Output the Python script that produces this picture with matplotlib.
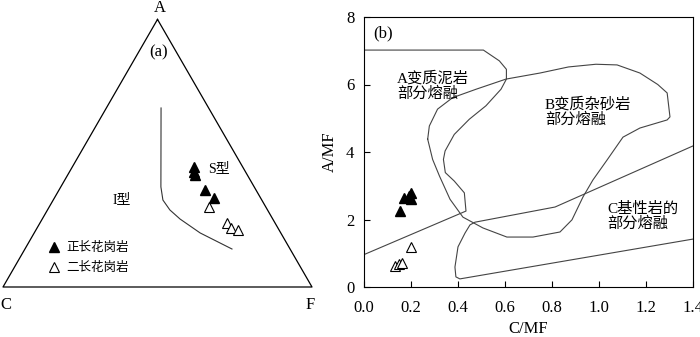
import numpy as np
import matplotlib.pyplot as plt

plt.rcParams['font.family'] = ['Liberation Serif', 'Noto Sans CJK SC']

# (a) ACF ternary: fractions A, C, F
orth_A = [0.448, 0.430, 0.418, 0.362, 0.333]
orth_C = [0.158, 0.167, 0.170, 0.165, 0.151]
orth_F = [0.394, 0.403, 0.412, 0.473, 0.516]
mon_A = [0.299, 0.239, 0.220, 0.213]
mon_C = [0.184, 0.156, 0.152, 0.133]
mon_F = [0.517, 0.605, 0.628, 0.654]
bound_A = [0.669, 0.374, 0.325, 0.288, 0.254, 0.202, 0.142]
bound_C = [0.154, 0.302, 0.320, 0.316, 0.300, 0.261, 0.188]
bound_F = [0.177, 0.324, 0.355, 0.396, 0.446, 0.537, 0.670]

# (b) C/MF vs A/MF
orth_cmf = [0.17, 0.20, 0.20, 0.19, 0.155]
orth_amf = [2.65, 2.80, 2.62, 2.70, 2.25]
mon_cmf = [0.20, 0.13, 0.15, 0.16]
mon_amf = [1.19, 0.62, 0.67, 0.70]

fieldA_x = [0, 0.508, 0.576, 0.606, 0.606, 0.583, 0.519, 0.448, 0.384, 0.345,
            0.338, 0.346, 0.384, 0.427, 0.434, 0]
fieldA_y = [7.02, 7.02, 6.70, 6.45, 6.16, 5.86, 5.37, 4.97, 4.52, 4.03,
            3.78, 3.39, 3.14, 2.79, 2.25, 0.96]
fieldB_x = [0.271, 0.278, 0.313, 0.377, 0.477, 0.604, 0.749, 0.870, 0.987,
            1.077, 1.174, 1.250, 1.290, 1.302, 1.290, 1.174, 1.102, 1.034,
            0.974, 0.932, 0.885, 0.834, 0.719, 0.608, 0.506, 0.421, 0.366,
            0.321, 0.292, 0.271]
fieldB_y = [4.38, 4.77, 5.27, 5.61, 5.86, 6.16, 6.34, 6.52, 6.60, 6.58,
            6.34, 6.00, 5.75, 5.04, 4.95, 4.71, 4.44, 3.76, 3.17, 2.67,
            1.99, 1.63, 1.48, 1.48, 1.75, 2.07, 2.60, 3.29, 3.78, 4.38]
fieldC_x = [1.4, 0.408, 0.391, 0.387, 0.400, 0.430, 0.451, 0.472, 0.813, 1.4]
fieldC_y = [1.42, 0.24, 0.30, 0.59, 1.19, 1.60, 1.84, 1.92, 2.37, 4.18]


def tern(a, c, f):
    a, c, f = np.asarray(a), np.asarray(c), np.asarray(f)
    s = a + c + f
    return (f + a / 2) / s, a / s * np.sqrt(3) / 2


fig = plt.figure(figsize=(7, 3.37), dpi=100)

# ---- panel (a)
ax1 = fig.add_axes([0, 0, 330 / 700, 1])
ax1.set_xlim(-3 / 309, 327 / 309)
ax1.set_ylim(-50 / 309, 287 / 309)
ax1.axis('off')
tx, ty = tern([1, 0, 0, 1], [0, 1, 0, 0], [0, 0, 1, 0])
ax1.plot(tx, ty, color='black', lw=0.9)
bx, by = tern(bound_A, bound_C, bound_F)
ax1.plot(bx, by, color='#333333', lw=0.8)
ox, oy = tern(orth_A, orth_C, orth_F)
ax1.plot(ox, oy, '^', color='black', ms=7, ls='none', label='正长花岗岩')
mx, my = tern(mon_A, mon_C, mon_F)
ax1.plot(mx, my, '^', mfc='white', mec='black', mew=0.8, ms=7, ls='none',
         label='二长花岗岩')
ax1.text(0.508, 0.903, 'A', fontsize=12, ha='center', va='center')
ax1.text(0.01, -0.058, 'C', fontsize=12, ha='center', va='center')
ax1.text(0.994, -0.058, 'F', fontsize=12, ha='center', va='center')
ax1.text(0.502, 0.760, '(a)', fontsize=12, ha='center', va='center')
ax1.text(0.663, 0.385, 'S型', fontsize=10, ha='left', va='center')
ax1.text(0.356, 0.282, 'I型', fontsize=10, ha='left', va='center')
ax1.legend(loc='upper left', bbox_to_anchor=(0.145, 0.146),
           bbox_transform=ax1.transData, frameon=False, fontsize=9,
           handlelength=1, handletextpad=0.5, labelspacing=0.65,
           borderpad=0, borderaxespad=0)

# ---- panel (b)
ax2 = fig.add_axes([364 / 700, 1 - 287 / 337, 329 / 700, 270 / 337])
ax2.plot(fieldA_x, fieldA_y, color='#444444', lw=0.8)
ax2.plot(fieldB_x, fieldB_y, color='#444444', lw=0.8)
ax2.plot(fieldC_x, fieldC_y, color='#444444', lw=0.8)
ax2.plot(orth_cmf, orth_amf, '^', color='black', ms=7, ls='none')
ax2.plot(mon_cmf, mon_amf, '^', mfc='white', mec='black', mew=0.8, ms=7,
         ls='none')
ax2.set_xlim(0, 1.4)
ax2.set_ylim(0, 8)
ax2.set_xticks(np.arange(0, 1.41, 0.2))
ax2.set_xticklabels(['%.1f' % v for v in np.arange(0, 1.41, 0.2)])
ax2.set_yticks([0, 2, 4, 6, 8])
ax2.tick_params(direction='in', labelsize=12, length=4, width=0.8)
ax2.tick_params(axis='x', pad=9)
ax2.tick_params(axis='y', pad=7)
ax2.set_xlabel('C/MF', fontsize=12, labelpad=4)
ax2.set_ylabel('A/MF', fontsize=12, labelpad=6)
ax2.text(0.04, 7.5, '(b)', fontsize=12, va='center')
ax2.text(0.14, 5.97, 'A变质泥岩\n部分熔融', fontsize=11, va='center',
         linespacing=1.05)
ax2.text(0.77, 5.2, 'B变质杂砂岩\n部分熔融', fontsize=11, va='center',
         linespacing=1.05)
ax2.text(1.034, 2.1, 'C基性岩的\n部分熔融', fontsize=11, va='center',
         linespacing=1.05)

plt.savefig('out.png', dpi=100)
